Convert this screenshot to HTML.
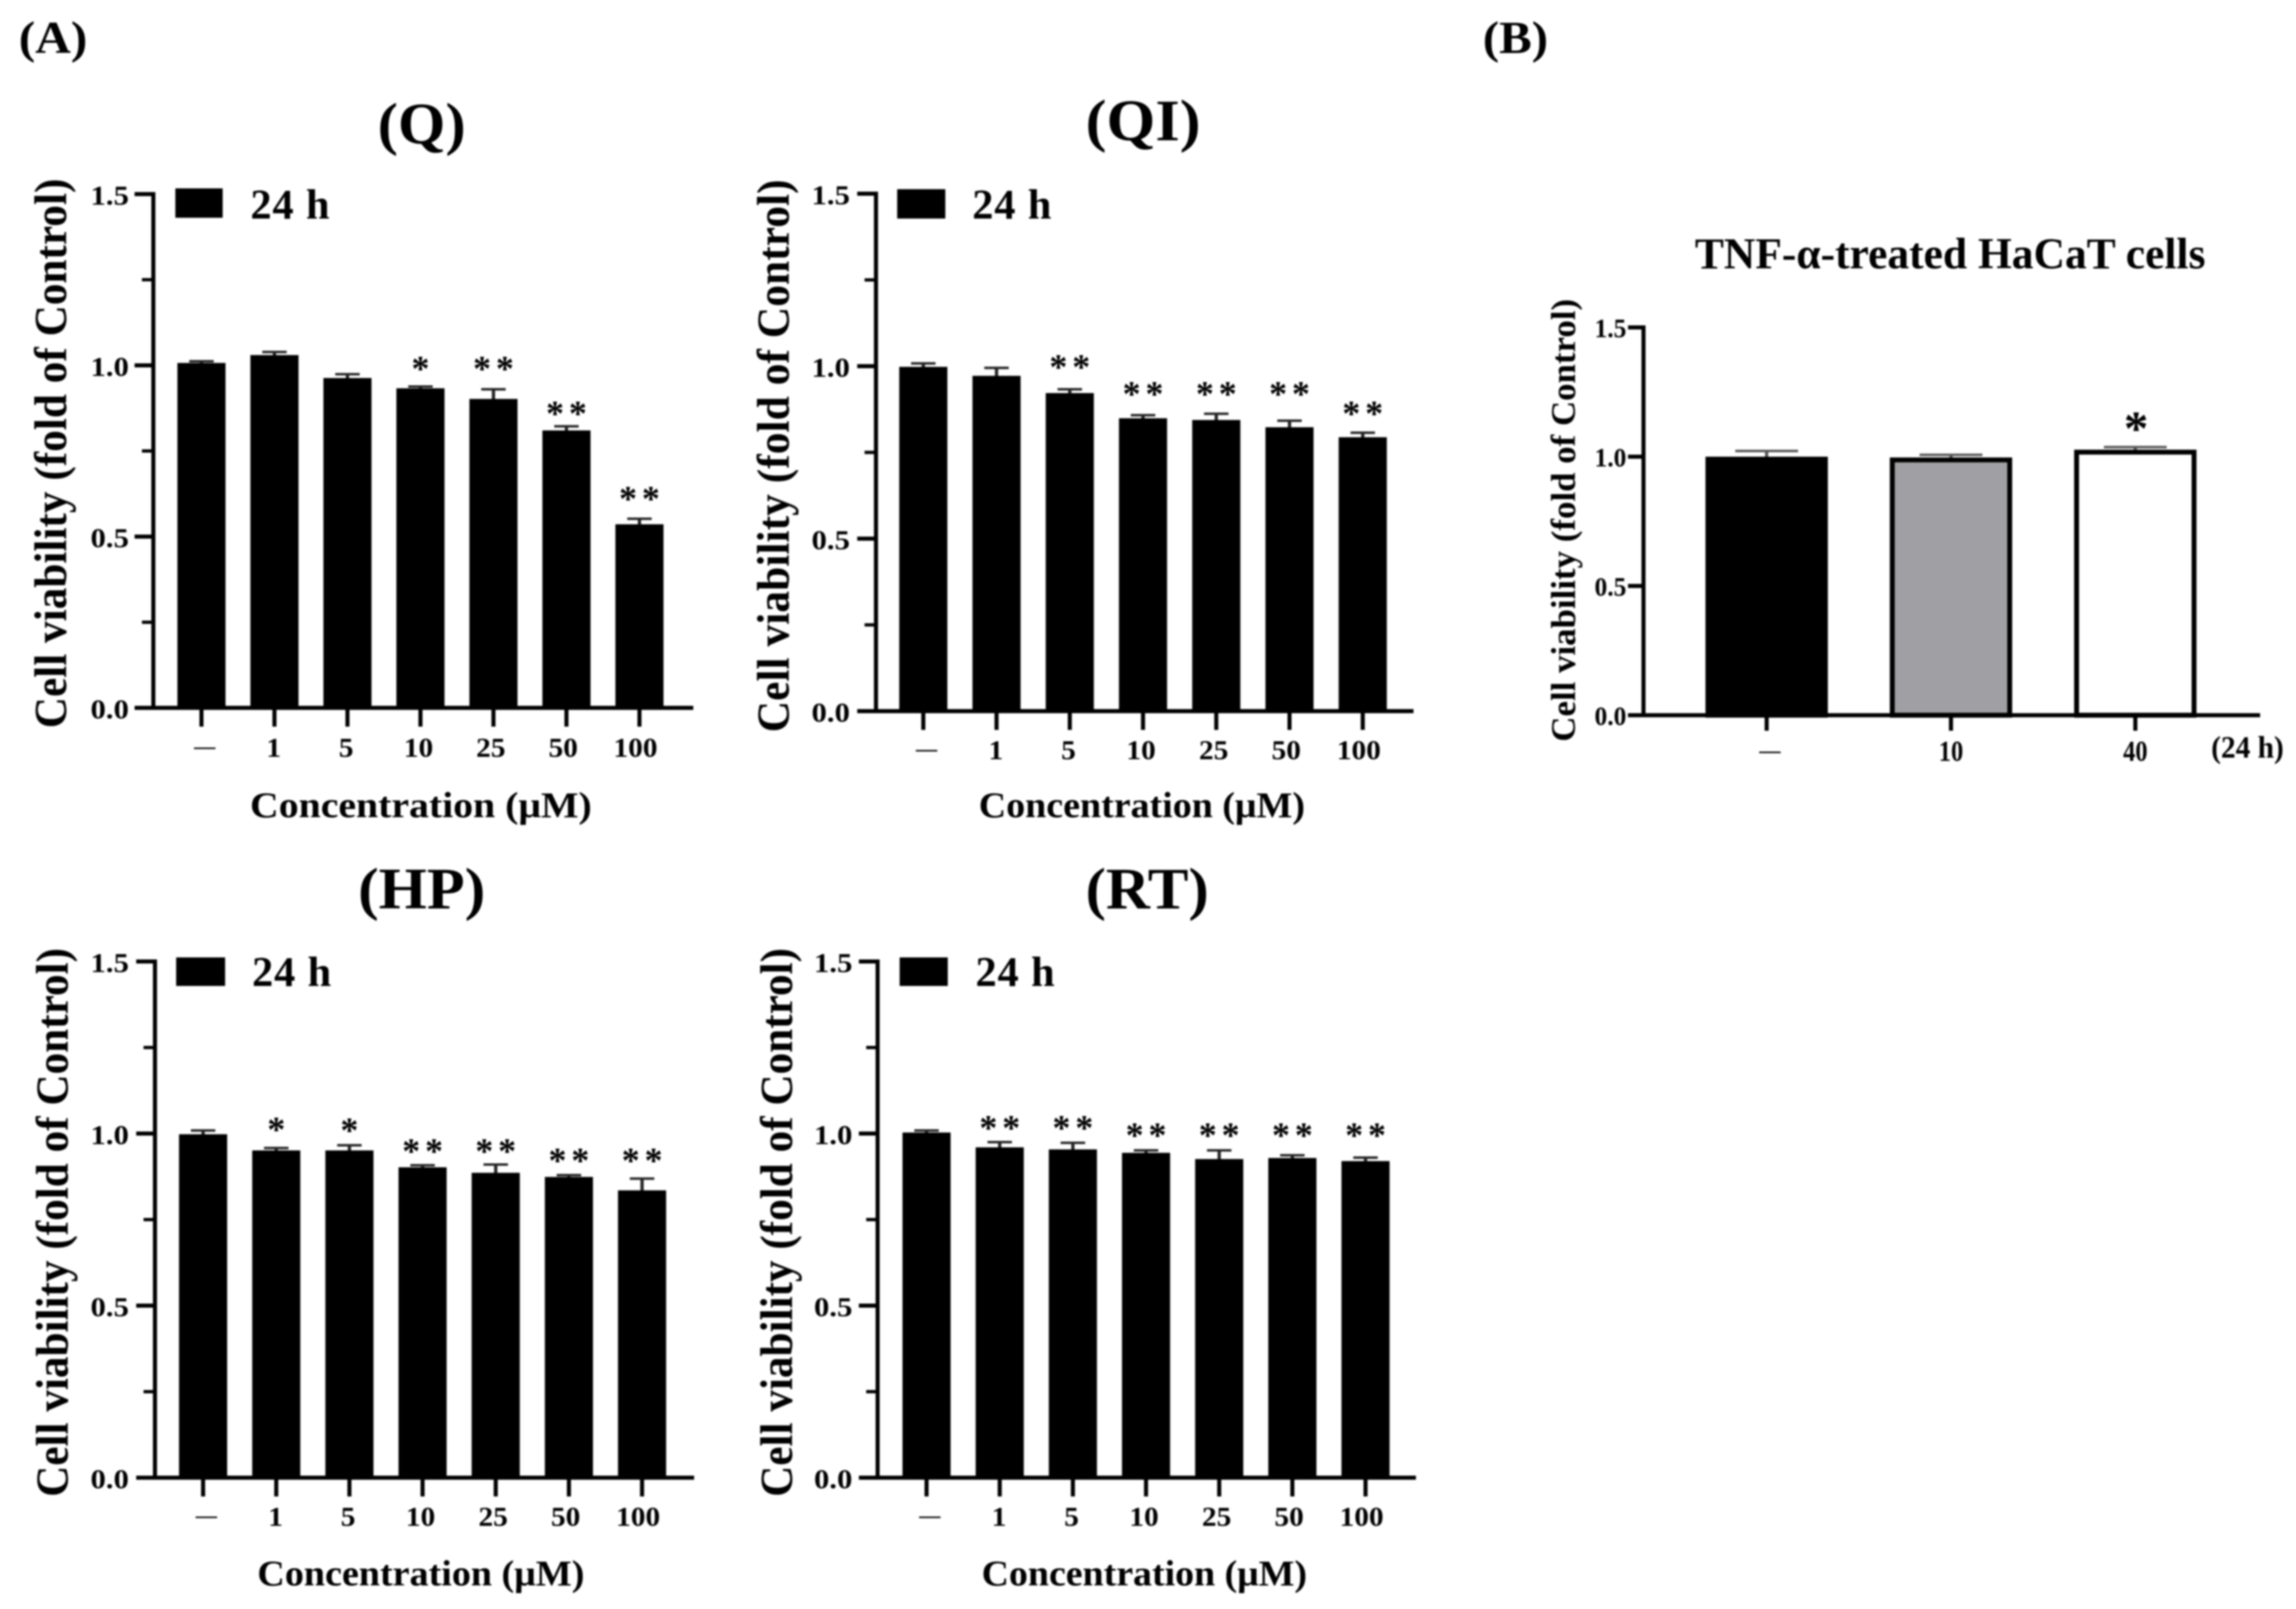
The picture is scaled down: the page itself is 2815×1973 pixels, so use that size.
<!DOCTYPE html>
<html lang="en">
<head>
<meta charset="utf-8">
<title>Cell viability bar charts</title>
<style>
  html, body { margin: 0; padding: 0; background: #fff; }
  #figure { display: block; width: 2815px; height: 1973px; filter: blur(1px); }
  text { font-family: "Liberation Serif", serif; font-weight: bold; fill: #000; }
</style>
</head>
<body>
<svg id="figure" xmlns="http://www.w3.org/2000/svg" width="2815" height="1973" viewBox="0 0 2815 1973">
  <rect x="0" y="0" width="2815" height="1973" fill="#fff"/>

  <text x="23" y="65" font-size="56" textLength="84" lengthAdjust="spacingAndGlyphs">(A)</text>
  <text x="1818" y="65" font-size="56" textLength="80" lengthAdjust="spacingAndGlyphs">(B)</text>

  <g id="panel-q">
    <text x="463" y="176" font-size="72" textLength="108" lengthAdjust="spacingAndGlyphs">(Q)</text>
    <text transform="translate(81,556) rotate(-90)" text-anchor="middle" font-size="56" textLength="674" lengthAdjust="spacingAndGlyphs">Cell viability (fold of Control)</text>
    <text x="516" y="1002" text-anchor="middle" font-size="44" textLength="419" lengthAdjust="spacingAndGlyphs">Concentration (μM)</text>
    <rect x="215" y="231" width="58" height="36" fill="#000"/>
    <text x="307" y="268" font-size="52" textLength="97" lengthAdjust="spacing">24 h</text>
  </g>

  <g id="panel-qi">
    <text x="1331" y="172" font-size="72" textLength="141" lengthAdjust="spacingAndGlyphs">(QI)</text>
    <text transform="translate(967,559) rotate(-90)" text-anchor="middle" font-size="56" textLength="678" lengthAdjust="spacingAndGlyphs">Cell viability (fold of Control)</text>
    <text x="1400" y="1002" text-anchor="middle" font-size="44" textLength="400" lengthAdjust="spacingAndGlyphs">Concentration (μM)</text>
    <rect x="1100" y="232" width="59" height="36" fill="#000"/>
    <text x="1192" y="268" font-size="52" textLength="97" lengthAdjust="spacing">24 h</text>
  </g>

  <g id="panel-hp">
    <text x="439" y="1114" font-size="72" textLength="156" lengthAdjust="spacingAndGlyphs">(HP)</text>
    <text transform="translate(83,1499) rotate(-90)" text-anchor="middle" font-size="56" textLength="673" lengthAdjust="spacingAndGlyphs">Cell viability (fold of Control)</text>
    <text x="516" y="1944" text-anchor="middle" font-size="44" textLength="401" lengthAdjust="spacingAndGlyphs">Concentration (μM)</text>
    <rect x="216" y="1174" width="60" height="35" fill="#000"/>
    <text x="309" y="1209" font-size="52" textLength="97" lengthAdjust="spacing">24 h</text>
  </g>

  <g id="panel-rt">
    <text x="1331" y="1114" font-size="72" textLength="151" lengthAdjust="spacingAndGlyphs">(RT)</text>
    <text transform="translate(971,1499) rotate(-90)" text-anchor="middle" font-size="56" textLength="673" lengthAdjust="spacingAndGlyphs">Cell viability (fold of Control)</text>
    <text x="1403" y="1944" text-anchor="middle" font-size="44" textLength="399" lengthAdjust="spacingAndGlyphs">Concentration (μM)</text>
    <rect x="1103" y="1174" width="59" height="35" fill="#000"/>
    <text x="1196" y="1209" font-size="52" textLength="97" lengthAdjust="spacing">24 h</text>
  </g>

  <g id="panel-b">
    <text x="2391" y="329" text-anchor="middle" font-size="54" textLength="626" lengthAdjust="spacingAndGlyphs">TNF-α-treated HaCaT cells</text>
    <text transform="translate(1931,638) rotate(-90)" text-anchor="middle" font-size="42" textLength="543" lengthAdjust="spacingAndGlyphs">Cell viability (fold of Control)</text>
    <text x="2711" y="929" font-size="38" textLength="89" lengthAdjust="spacingAndGlyphs">(24 h)</text>
  </g>
</svg>

<script>
const NS = 'http://www.w3.org/2000/svg';

const concentrationLabels = ['—', '1', '5', '10', '25', '50', '100'];
const treatmentLabels = ['—', '10', '40'];
const yMajorTicks = [0, 0.5, 1, 1.5];
const yMajorLabels = ['0.0', '0.5', '1.0', '1.5'];
const yMinorTicks = [0.25, 0.75, 1.25];
const noMinorTicks = [];

const qValues = [1.007, 1.03, 0.963, 0.933, 0.902, 0.81, 0.536];
const qErrorTops = [1.012, 1.039, 0.974, 0.938, 0.93, 0.822, 0.552];
const qStars = ['', '', '', '*', '**', '**', '**'];
const qStarLevels = [0, 0, 0, 1.005, 1.005, 0.874, 0.625];

const qiValues = [0.998, 0.972, 0.922, 0.849, 0.844, 0.823, 0.794];
const qiErrorTops = [1.008, 0.995, 0.933, 0.858, 0.862, 0.842, 0.807];
const qiStars = ['', '', '**', '**', '**', '**', '**'];
const qiStarLevels = [0, 0, 1.012, 0.934, 0.934, 0.934, 0.877];

const hpValues = [0.998, 0.951, 0.951, 0.902, 0.886, 0.874, 0.835];
const hpErrorTops = [1.009, 0.958, 0.966, 0.908, 0.91, 0.879, 0.869];
const hpStars = ['', '*', '*', '**', '**', '**', '**'];
const hpStarLevels = [0, 1.027, 1.024, 0.964, 0.964, 0.937, 0.937];

const rtValues = [1.003, 0.96, 0.954, 0.944, 0.926, 0.929, 0.92];
const rtErrorTops = [1.009, 0.975, 0.973, 0.951, 0.951, 0.937, 0.93];
const rtStars = ['', '**', '**', '**', '**', '**', '**'];
const rtStarLevels = [0, 1.031, 1.031, 1.01, 1.01, 1.01, 1.01];

const bValues = [1.0, 0.997, 1.027];
const bErrorTops = [1.022, 1.007, 1.037];
const bStars = ['', '', '*'];
const bStarLevels = [0, 0, 1.134];
const bFills = ['#000000', '#a0a0a4', '#ffffff'];
const solidFills = ['#000000', '#000000', '#000000', '#000000', '#000000', '#000000', '#000000'];

function make(parent, tag, props, content) {
  const el = document.createElementNS(NS, tag);
  Object.keys(props).forEach(function (k) { el.setAttribute(k, props[k]); });
  if (content !== undefined) el.textContent = content;
  parent.appendChild(el);
  return el;
}

function drawBarChart(c) {
  const root = document.getElementById(c.id);
  const key = c.key;
  const yScale = function (v) { return c.y0 - v * c.unit; };
  const xScale = function (i) { return c.firstX + i * c.step; };

  c.values.forEach(function (v, i) {
    const cx = xScale(i);
    const top = yScale(v);
    const capY = yScale(c.errorTops[i]);

    const stem = make(root, 'line', { x1: cx, x2: cx, y1: capY, y2: top + 2, stroke: c.errColor, 'stroke-width': 4 });
    
    

    const cap = make(root, 'line', { x1: cx - c.capW / 2, x2: cx + c.capW / 2, y1: capY, y2: capY, stroke: c.errColor, 'stroke-width': 3 });
    
    

    const inset = c.barStroke / 2;
    const bar = make(root, 'rect', {
      x: cx - c.barW / 2 + inset,
      y: top + inset,
      width: c.barW - c.barStroke,
      height: c.y0 - top - inset,
      fill: c.fills[i],
      stroke: '#000',
      'stroke-width': c.barStroke
    });
    
    

    if (c.stars[i]) {
      const star = make(root, 'text', {
        x: cx + c.starShift,
        y: yScale(c.starLevels[i]) + c.starSize * 0.47,
        'text-anchor': 'middle',
        'font-size': c.starSize,
        'letter-spacing': c.starGap
      }, c.stars[i]);
      
      
    }

    const tick = make(root, 'line', { x1: cx, x2: cx, y1: c.y0, y2: c.y0 + c.xTickLen, stroke: '#000', 'stroke-width': 5 });
    
    

    const isDash = c.labels[i] === '—';
    const labelX = isDash ? cx + 4 : cx - i * c.labelDrift;
    const labelY = isDash ? c.labelBase - 4 : c.labelBase;
    const labelProps = {
      x: labelX,
      y: labelY,
      'text-anchor': 'middle',
      'font-size': isDash ? 26 : c.xFont
    };
    if (!isDash) {
      labelProps.textLength = c.labels[i].length * c.xDigitWidth;
      labelProps.lengthAdjust = 'spacingAndGlyphs';
    }
    const label = make(root, 'text', labelProps, c.labels[i]);
    
    
  });

  yMajorTicks.forEach(function (v, i) {
    const y = yScale(v);
    const tick = make(root, 'line', { x1: c.axisX - c.majorLen, x2: c.axisX, y1: y, y2: y, stroke: '#000', 'stroke-width': 5 });
    
    

    const label = make(root, 'text', {
      x: c.yLabelX,
      y: y + c.yLabelDy,
      'text-anchor': 'end',
      'font-size': c.yFont,
      textLength: c.yLabelWidth,
      lengthAdjust: 'spacingAndGlyphs'
    }, yMajorLabels[i]);
    
    
  });

  c.minorTicks.forEach(function (v) {
    const y = yScale(v);
    const tick = make(root, 'line', { x1: c.axisX - c.minorLen, x2: c.axisX, y1: y, y2: y, stroke: '#000', 'stroke-width': 4 });
    
    
  });

  const yAxis = make(root, 'line', { x1: c.axisX, x2: c.axisX, y1: yScale(1.5) - 2.5, y2: c.y0 + 2.5, stroke: '#000', 'stroke-width': 5 });
  
  

  const xAxis = make(root, 'line', { x1: c.axisX - c.majorLen, x2: c.xEnd, y1: c.y0, y2: c.y0, stroke: '#000', 'stroke-width': 5 });
  
  
}

const smallPanel = {
  barW: 59, capW: 30, barStroke: 0, errColor: '#222', majorLen: 23, minorLen: 14,
  xTickLen: 23, xFont: 34, xDigitWidth: 18, yFont: 34, yLabelWidth: 47, yLabelDy: 13, labelDrift: 0.8,
  starSize: 44, starGap: 6, starShift: 3, fills: solidFills,
  labels: concentrationLabels, minorTicks: yMinorTicks
};

drawBarChart(Object.assign({}, smallPanel, {
  id: 'panel-q', key: 'q', axisX: 188, xEnd: 850, y0: 868, unit: 420, firstX: 247, step: 89.5,
  yLabelX: 158, labelBase: 928,
  values: qValues, errorTops: qErrorTops, stars: qStars, starLevels: qStarLevels
}));

drawBarChart(Object.assign({}, smallPanel, {
  id: 'panel-qi', key: 'qi', axisX: 1074, xEnd: 1733, y0: 872, unit: 423, firstX: 1132, step: 89.8,
  yLabelX: 1042, labelBase: 931,
  values: qiValues, errorTops: qiErrorTops, stars: qiStars, starLevels: qiStarLevels
}));

drawBarChart(Object.assign({}, smallPanel, {
  id: 'panel-hp', key: 'hp', axisX: 190, xEnd: 851, y0: 1812, unit: 422, firstX: 249, step: 89.7,
  yLabelX: 158, labelBase: 1871,
  values: hpValues, errorTops: hpErrorTops, stars: hpStars, starLevels: hpStarLevels
}));

drawBarChart(Object.assign({}, smallPanel, {
  id: 'panel-rt', key: 'rt', axisX: 1076, xEnd: 1736, y0: 1812, unit: 422, firstX: 1136, step: 89.7,
  yLabelX: 1045, labelBase: 1871,
  values: rtValues, errorTops: rtErrorTops, stars: rtStars, starLevels: rtStarLevels
}));

drawBarChart({
  id: 'panel-b', key: 'b', axisX: 2015, xEnd: 2771, y0: 877, unit: 317, firstX: 2166, step: 226,
  barW: 150, capW: 77, barStroke: 6, errColor: '#555', majorLen: 19, minorLen: 0,
  xTickLen: 19, xFont: 36, xDigitWidth: 15, yFont: 33, yLabelWidth: 39, yLabelX: 1994, yLabelDy: 12, labelDrift: 0,
  labelBase: 933, starSize: 60, starGap: 0, starShift: 1,
  fills: bFills, labels: treatmentLabels, minorTicks: noMinorTicks,
  values: bValues, errorTops: bErrorTops, stars: bStars, starLevels: bStarLevels
});
</script>
</body>
</html>
